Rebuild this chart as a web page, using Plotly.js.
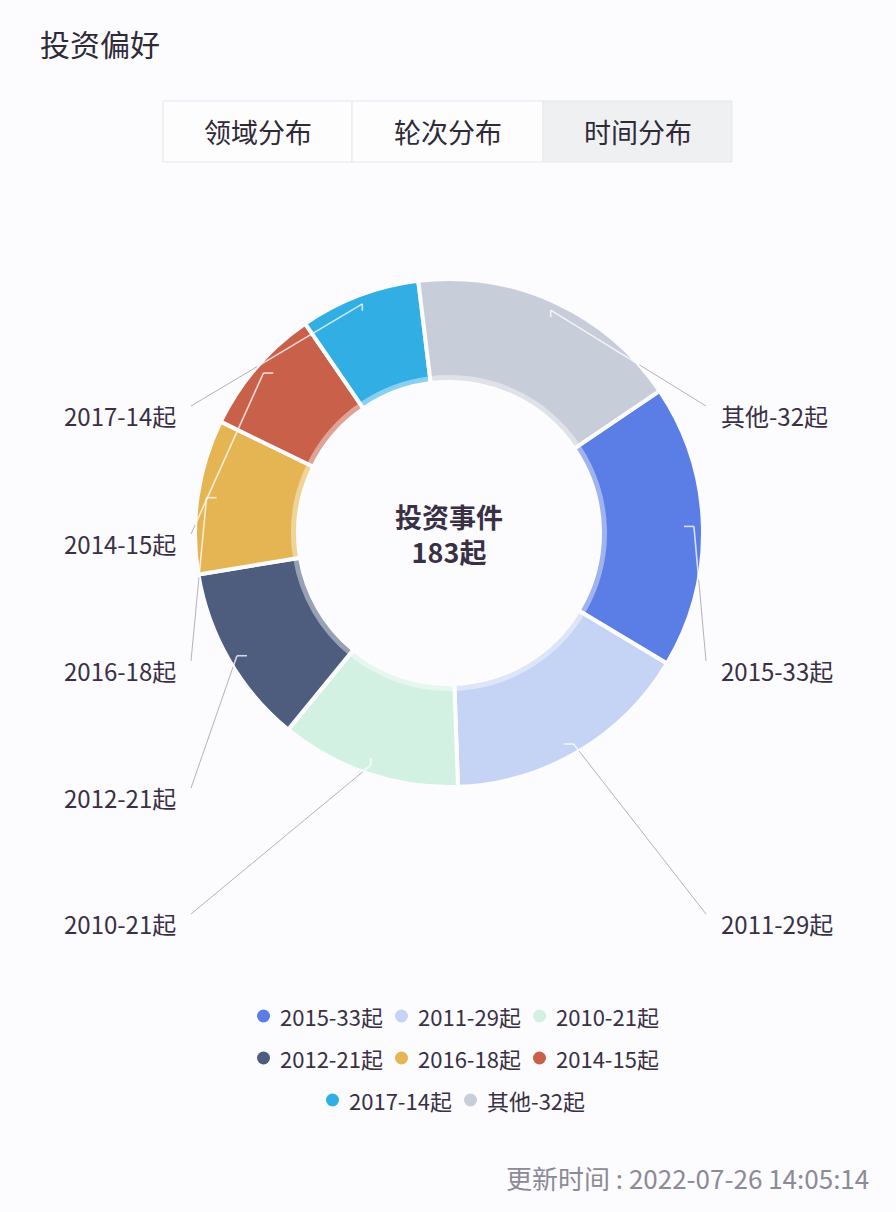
<!DOCTYPE html>
<html>
<head>
<meta charset="utf-8">
<script src="https://cdn.plot.ly/plotly-3.0.1.min.js"></script>
<style>
  html, body { margin: 0; padding: 0; background: #fcfcfe; }
  #chart { width: 896px; height: 1212px; }
</style>
</head>
<body>
<div id="chart"></div>
<script>
// данные графика
const years = ['2015', '2011', '2010', '2012', '2016', '2014', '2017', '其他'];
const counts = [33, 29, 21, 21, 18, 15, 14, 32];
const colors = ['#5b7de6', '#c5d4f5', '#d3f1e3', '#4e5d7e', '#e4b552', '#c8604a', '#31afe5', '#c8cdda'];
const tabs = ['领域分布', '轮次分布', '时间分布'];
const centerTitle = '投资事件';
const updateTime = '2022-07-26 14:05:14';

// где стоят подписи: сторона и строка
const labelSide = ['r', 'r', 'l', 'l', 'l', 'l', 'l', 'r'];
const labelRow = [2, 4, 4, 3, 2, 1, 0, 0];

const W = 896, H = 1212;
const CX = 449, CY = 533, R = 254, R_IN = 151, R_BAND = 158;
const ROT = 56;
const FONT = '"Noto Sans CJK SC", "Noto Sans", sans-serif';
const TEXT = '#3a3045';

const names = years.map((y, i) => y + '-' + counts[i] + '起');
const total = counts.reduce((a, b) => a + b, 0);

// пиксели -> доли paper
const px = (x) => x / W;
const py = (y) => 1 - y / H;

function pieDomain(r) {
  return {
    x: [px(CX - r), px(CX + r)],
    y: [py(CY + r), py(CY - r)],
  };
}

const data = [
  {
    type: 'pie',
    values: counts,
    labels: names,
    sort: false,
    direction: 'clockwise',
    rotation: ROT,
    hole: R_IN / R,
    domain: pieDomain(R),
    marker: { colors: colors, line: { color: '#fcfcfe', width: 4 } },
    textinfo: 'none',
    hoverinfo: 'none',
  },
  // светлая полоска по внутреннему краю кольца
  {
    type: 'pie',
    values: counts,
    labels: names,
    sort: false,
    direction: 'clockwise',
    rotation: ROT,
    hole: R_IN / R_BAND,
    domain: pieDomain(R_BAND),
    marker: { colors: counts.map(() => 'rgba(255,255,255,0.42)'), line: { width: 0 } },
    textinfo: 'none',
    hoverinfo: 'none',
  },
];

const shapes = [];
const annotations = [];

function line(a, b, color, width) {
  shapes.push({
    type: 'line', xref: 'paper', yref: 'paper',
    x0: px(a[0]), y0: py(a[1]), x1: px(b[0]), y1: py(b[1]),
    line: { color, width },
  });
}

// режем отрезок по окружности кольца: внутри белый, снаружи серый
function splitSegment(a, b) {
  const dx = b[0] - a[0], dy = b[1] - a[1];
  const fx = a[0] - CX, fy = a[1] - CY;
  const qa = dx * dx + dy * dy;
  const qb = 2 * (fx * dx + fy * dy);
  const qc = fx * fx + fy * fy - R * R;
  const disc = qb * qb - 4 * qa * qc;
  const ts = [0, 1];
  if (disc > 0) {
    [(-qb - Math.sqrt(disc)) / (2 * qa), (-qb + Math.sqrt(disc)) / (2 * qa)]
      .forEach((t) => { if (t > 0 && t < 1) ts.push(t); });
  }
  ts.sort((m, n) => m - n);
  for (let k = 0; k < ts.length - 1; k++) {
    const p0 = [a[0] + dx * ts[k], a[1] + dy * ts[k]];
    const p1 = [a[0] + dx * ts[k + 1], a[1] + dy * ts[k + 1]];
    const mx = (p0[0] + p1[0]) / 2 - CX, my = (p0[1] + p1[1]) / 2 - CY;
    const inside = Math.sqrt(mx * mx + my * my) < R;
    if (inside) line(p0, p1, 'rgba(255,255,255,0.75)', 1.6);
    else line(p0, p1, 'rgba(170,170,180,0.9)', 1);
  }
}

// подписи и выноски
const rowsY = [415, 543, 670, 797, 923];
let acc = 0;
counts.forEach((v, i) => {
  const mid = (ROT + (acc + v / 2) / total * 360) * Math.PI / 180;
  acc += v;
  const y = rowsY[labelRow[i]];
  const right = labelSide[i] === 'r';
  annotations.push({
    xref: 'paper', yref: 'paper', showarrow: false,
    x: px(right ? 719 : 178), y: py(y),
    xanchor: right ? 'left' : 'right', yanchor: 'middle',
    text: names[i],
    font: { family: FONT, size: 24, color: TEXT },
  });
  const p0 = [CX + 245 * Math.sin(mid), CY - 245 * Math.cos(mid)];
  const p2 = [right ? 706 : 191, y - 9];
  const ddx = p2[0] - p0[0], ddy = p2[1] - p0[1];
  const hook = Math.abs(ddx) > Math.abs(ddy)
    ? [p0[0], p0[1] + 7 * Math.sign(CY - p0[1])]
    : [p0[0] + 10 * Math.sign(CX - p0[0]), p0[1]];
  splitSegment(hook, p0);
  splitSegment(p0, p2);
});

// заголовок
annotations.push({
  xref: 'paper', yref: 'paper', showarrow: false,
  x: px(38), y: py(43), xanchor: 'left', yanchor: 'middle',
  text: '投资偏好', font: { family: FONT, size: 30, color: '#2f2a38' },
});

// вкладки
const tabX = [163, 352, 543, 732];
tabs.forEach((t, i) => {
  shapes.push({
    type: 'rect', xref: 'paper', yref: 'paper',
    x0: px(tabX[i]), x1: px(tabX[i + 1]), y0: py(162), y1: py(101),
    fillcolor: i === tabs.length - 1 ? '#eff0f2' : '#fdfdfe',
    line: { color: '#e6e7ec', width: 1 },
    layer: 'below',
  });
  annotations.push({
    xref: 'paper', yref: 'paper', showarrow: false,
    x: px((tabX[i] + tabX[i + 1]) / 2), y: py(132), xanchor: 'center', yanchor: 'middle',
    text: t, font: { family: FONT, size: 27, color: '#2f2a38' },
  });
});

// центр кольца
annotations.push({
  xref: 'paper', yref: 'paper', showarrow: false,
  x: px(CX), y: py(534), xanchor: 'center', yanchor: 'middle',
  text: centerTitle + '<br>' + total + '起',
  font: { family: FONT, size: 27, color: TEXT, weight: 700 },
});

// легенда: строки по 3, 3, 2 элемента, по центру
const legendRows = [[0, 1, 2], [3, 4, 5], [6, 7]];
const legendY = [1016, 1058, 1100];
const pitch = 138, itemW = 126, legendCenter = 458;
legendRows.forEach((row, r) => {
  const start = legendCenter - ((row.length - 1) * pitch + itemW) / 2;
  row.forEach((idx, k) => {
    const mx = start + 6.5 + k * pitch;
    const y = legendY[r];
    shapes.push({
      type: 'circle', xref: 'paper', yref: 'paper',
      x0: px(mx - 6.5), x1: px(mx + 6.5), y0: py(y + 6.5), y1: py(y - 6.5),
      fillcolor: colors[idx], line: { width: 0 },
    });
    annotations.push({
      xref: 'paper', yref: 'paper', showarrow: false,
      x: px(mx + 14), y: py(y), xanchor: 'left', yanchor: 'middle',
      text: names[idx], font: { family: FONT, size: 22, color: TEXT },
    });
  });
});

// время обновления
annotations.push({
  xref: 'paper', yref: 'paper', showarrow: false,
  x: px(871), y: py(1177), xanchor: 'right', yanchor: 'middle',
  text: '更新时间 : ' + updateTime, font: { family: FONT, size: 26, color: '#8c8a96' },
});

const layout = {
  width: W,
  height: H,
  margin: { l: 0, r: 0, t: 0, b: 0, pad: 0 },
  paper_bgcolor: '#fcfcfe',
  plot_bgcolor: '#fcfcfe',
  showlegend: false,
  shapes,
  annotations,
};

Plotly.newPlot('chart', data, layout, { staticPlot: true, displayModeBar: false });
</script>
</body>
</html>
